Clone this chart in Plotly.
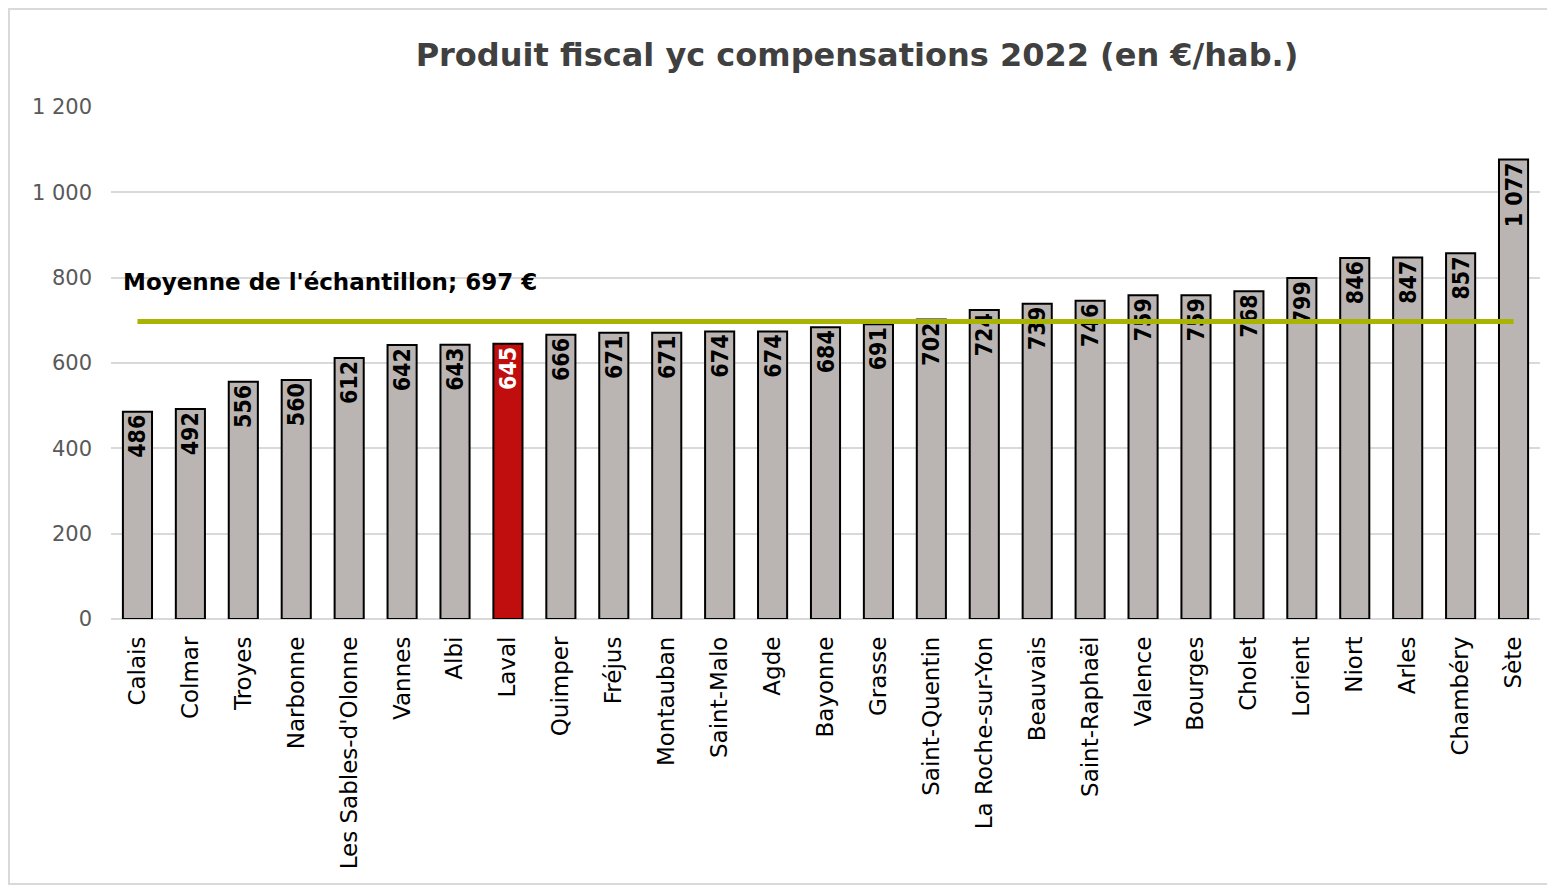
import plotly.graph_objects as go

cities = ["Calais", "Colmar", "Troyes", "Narbonne", "Les Sables-d'Olonne", "Vannes", "Albi",
          "Laval", "Quimper", "Fréjus", "Montauban", "Saint-Malo", "Agde", "Bayonne", "Grasse",
          "Saint-Quentin", "La Roche-sur-Yon", "Beauvais", "Saint-Raphaël", "Valence", "Bourges",
          "Cholet", "Lorient", "Niort", "Arles", "Chambéry", "Sète"]
values = [486, 492, 556, 560, 612, 642, 643, 645, 666, 671, 671, 674, 674, 684, 691,
          702, 724, 739, 746, 759, 759, 768, 799, 846, 847, 857, 1077]
highlight = "Laval"
mean_value = 697
title_text = "Produit fiscal yc compensations 2022 (en €/hab.)"
mean_label = "Moyenne de l'échantillon; 697 €"
y_ticks = [0, 200, 400, 600, 800, 1000, 1200]

FONT = "DejaVu Sans"
NUMFONT = "DejaVu Sans Condensed, Liberation Sans Narrow, DejaVu Sans"
bar_colors = ["#C00E0E" if c == highlight else "#BAB5B2" for c in cities]
text_colors = ["white" if c == highlight else "black" for c in cities]

W, H = 1547, 877
fig = go.Figure()
fig.add_trace(go.Bar(
    x=cities, y=values,
    marker=dict(color=bar_colors, line=dict(color="black", width=2)),
    texttemplate="%{y:,}", textposition="inside", insidetextanchor="end",
    textangle=-90, constraintext="none",
    textfont=dict(family=NUMFONT, size=23, color=text_colors, weight="bold"),
    cliponaxis=False, hoverinfo="skip",
))
fig.add_trace(go.Scatter(
    x=cities, y=[mean_value] * len(cities), mode="lines",
    line=dict(color="#A8B400", width=5), hoverinfo="skip",
))

fig.update_layout(
    width=W, height=H,
    margin=dict(l=103, r=15, t=99, b=266),
    paper_bgcolor="white", plot_bgcolor="white",
    showlegend=False, bargap=0.45,
    separators=", ",
    font=dict(family=FONT, color="black"),
    title=dict(text="<b>" + title_text + "</b>", x=849 / W, xanchor="center",
               y=1 - 47 / H, yanchor="middle", yref="container",
               font=dict(family=FONT, size=32, color="#404040")),
    xaxis=dict(tickangle=-90, tickfont=dict(family=FONT, size=23, color="black"),
               showgrid=False, showline=False, ticks="", ticklabelstandoff=12),
    yaxis=dict(range=[0, 1200], tickvals=y_ticks, tickformat=",",
               tickfont=dict(family=FONT, size=21, color="#595959"),
               showgrid=True, gridcolor="#D9D9D9", gridwidth=2,
               zeroline=True, zerolinecolor="#D9D9D9", zerolinewidth=2,
               showline=False, ticks="", ticklabelstandoff=18),
    annotations=[dict(text="<b>" + mean_label + "</b>", xref="paper", yref="y",
                      x=(121 - 111) / 1429, y=790, xanchor="left", yanchor="middle",
                      showarrow=False, font=dict(family=FONT, size=23, color="black"))],
    shapes=[dict(type="rect", xref="paper", yref="paper",
                 x0=(9 - 111) / 1429, x1=(1553 - 111) / 1429,
                 y0=(619 - 884) / 512, y1=(619 - 9) / 512,
                 line=dict(color="#D9D9D9", width=2), layer="below")],
)

fig.write_html("out.html")
